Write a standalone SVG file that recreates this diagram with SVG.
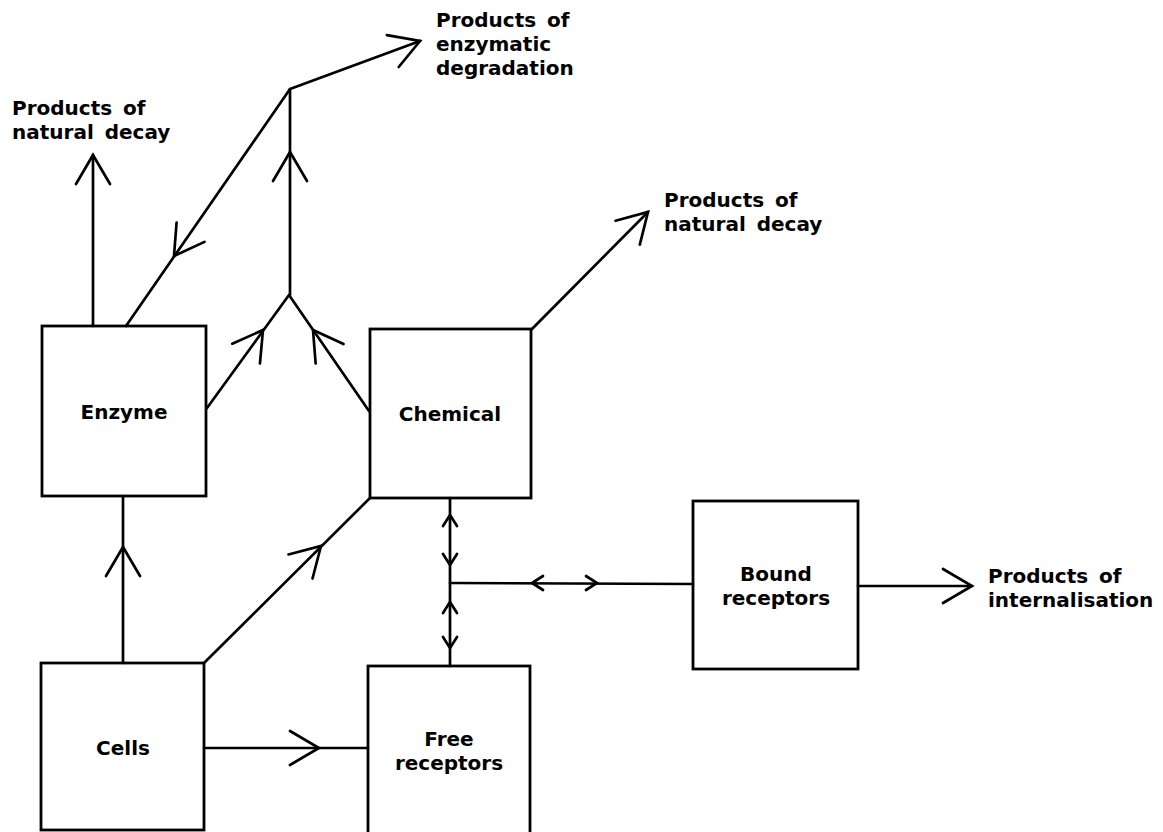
<svg xmlns="http://www.w3.org/2000/svg" xmlns:xlink="http://www.w3.org/1999/xlink" width="1163" height="832" viewBox="0 0 1163 832">
<style>
.box{fill:none;stroke:#000;stroke-width:2.8}
.ln{fill:none;stroke:#000;stroke-width:2.7;stroke-linecap:round;stroke-linejoin:round}
.ah{fill:none;stroke:#000;stroke-width:2.7;stroke-linecap:round;stroke-linejoin:miter}
.t{font-family:"DejaVu Sans",sans-serif;font-weight:bold;font-size:20px;fill:#000}
.c{text-anchor:middle}
</style>
<defs>
<path id="big" d="M-29,-17 L0,0 L-29,17"/>
<path id="small" d="M-11,-7 L0,0 L-11,7"/>
</defs>
<rect width="1163" height="832" fill="#fff"/>

<g id="connectors">
  <line class="ln" x1="93" y1="326" x2="93" y2="155"/>
  <use href="#big" class="ah" transform="translate(93,155) rotate(-90)"/>
  <polyline class="ln" points="126,326 290,89 420,41"/>
  <use href="#big" class="ah" transform="translate(420,41) rotate(-20.3)"/>
  <use href="#big" class="ah" transform="translate(174,256) rotate(124.8)"/>
  <line class="ln" x1="290" y1="89" x2="290" y2="295"/>
  <use href="#big" class="ah" transform="translate(290,152) rotate(-90)"/>
  <polyline class="ln" points="207,408 289,295 369,411"/>
  <use href="#big" class="ah" transform="translate(263,330) rotate(-54.4)"/>
  <use href="#big" class="ah" transform="translate(313,330) rotate(-124.9)"/>
  <line class="ln" x1="531" y1="330" x2="648" y2="212"/>
  <use href="#big" class="ah" transform="translate(648,212) rotate(-45.5)"/>
  <line class="ln" x1="123" y1="663" x2="123" y2="496"/>
  <use href="#big" class="ah" transform="translate(123,547) rotate(-90)"/>
  <line class="ln" x1="204" y1="663" x2="370" y2="498"/>
  <use href="#big" class="ah" transform="translate(321,546) rotate(-45)"/>
  <line class="ln" x1="204" y1="748" x2="368" y2="748"/>
  <use href="#big" class="ah" transform="translate(319,748) rotate(0)"/>
  <line class="ln" x1="450" y1="498" x2="450" y2="666"/>
  <line class="ln" x1="450" y1="583" x2="693" y2="584"/>
  <use href="#small" class="ah" transform="translate(450,515) rotate(-90)"/>
  <use href="#small" class="ah" transform="translate(450,565) rotate(90)"/>
  <use href="#small" class="ah" transform="translate(450,602) rotate(-90)"/>
  <use href="#small" class="ah" transform="translate(450,648) rotate(90)"/>
  <use href="#small" class="ah" transform="translate(532,583) rotate(180)"/>
  <use href="#small" class="ah" transform="translate(597,583) rotate(0)"/>
  <line class="ln" x1="858" y1="586" x2="972" y2="586"/>
  <use href="#big" class="ah" transform="translate(972,586) rotate(0)"/>
</g>

<g id="enzyme">
  <rect class="box" x="42" y="326" width="164" height="170"/>
  <text class="t c" x="124" y="419">Enzyme</text>
</g>
<g id="chemical">
  <rect class="box" x="370" y="329" width="161" height="169"/>
  <text class="t c" x="450" y="421">Chemical</text>
</g>
<g id="cells">
  <rect class="box" x="41" y="663" width="163" height="167"/>
  <text class="t c" x="123" y="755">Cells</text>
</g>
<g id="free-receptors">
  <rect class="box" x="368" y="666" width="162" height="180"/>
  <text class="t c" x="449" y="746">Free</text>
  <text class="t c" x="449" y="770">receptors</text>
</g>
<g id="bound-receptors">
  <rect class="box" x="693" y="501" width="165" height="168"/>
  <text class="t c" x="776" y="581">Bound</text>
  <text class="t c" x="776" y="605">receptors</text>
</g>

<g id="label-decay-left">
  <text class="t" x="12" y="115" style="word-spacing:4px">Products of</text>
  <text class="t" x="12" y="139" style="word-spacing:4px">natural decay</text>
</g>
<g id="label-enzymatic">
  <text class="t" x="436" y="27" style="word-spacing:4px">Products of</text>
  <text class="t" x="436" y="51">enzymatic</text>
  <text class="t" x="436" y="75">degradation</text>
</g>
<g id="label-decay-right">
  <text class="t" x="664" y="207" style="word-spacing:4px">Products of</text>
  <text class="t" x="664" y="231" style="word-spacing:4px">natural decay</text>
</g>
<g id="label-internalisation">
  <text class="t" x="988" y="583" style="word-spacing:4px">Products of</text>
  <text class="t" x="988" y="607">internalisation</text>
</g>
</svg>
